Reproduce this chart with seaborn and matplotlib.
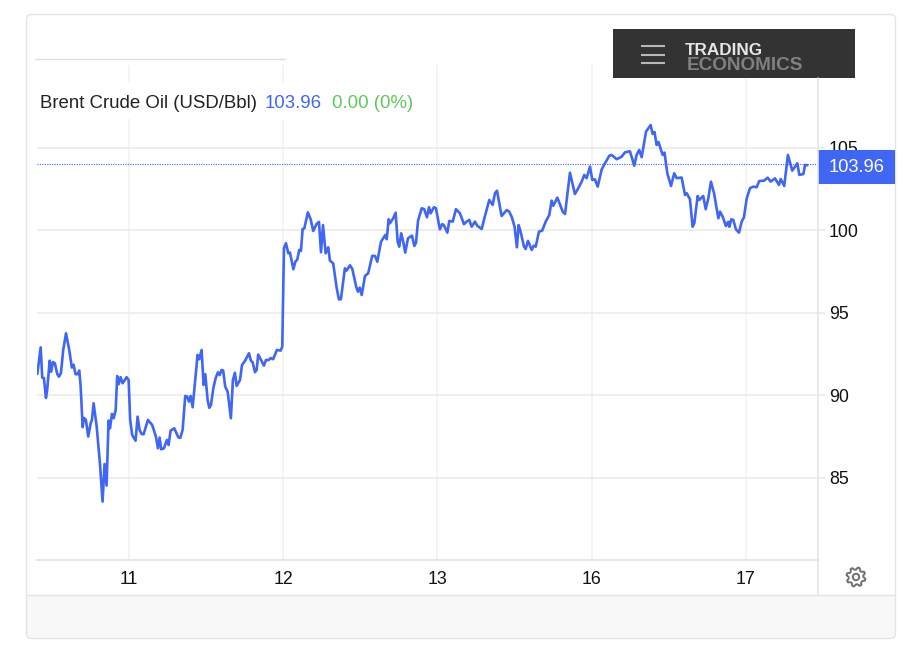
import numpy as np
import pandas as pd
import matplotlib
matplotlib.use('Agg')
import matplotlib.pyplot as plt
from matplotlib.patches import FancyBboxPatch, Rectangle, Polygon, Circle
import seaborn as sns

BLUE = '#3f66f5'
GREEN = '#5fc85f'

# session position, 0 = the "11" tick, one unit per trading day
t = [-0.594,-0.572,-0.562,-0.551,-0.538,-0.530,-0.514,-0.504,-0.493,-0.480,-0.465,-0.454,-0.441,-0.426,-0.408,-0.387,
     -0.370,-0.359,-0.346,-0.333,-0.322,-0.313,-0.300,-0.292,-0.279,-0.264,-0.248,-0.240,-0.229,-0.209,-0.188,-0.171,
     -0.158,-0.145,-0.132,-0.123,-0.110,-0.099,-0.086,-0.076,-0.067,-0.054,-0.041,-0.015,-0.002,0.008,0.021,0.043,
     0.056,0.069,0.082,0.095,0.123,0.151,0.175,0.188,0.199,0.209,0.227,0.246,0.257,0.270,0.294,0.320,0.333,0.348,
     0.365,0.378,0.389,0.400,0.413,0.445,0.456,0.471,0.484,0.495,0.510,0.521,0.532,0.547,0.562,0.577,0.588,0.601,
     0.611,0.624,0.640,0.661,0.674,0.687,0.698,0.720,0.733,0.752,0.778,0.791,0.802,0.817,0.828,0.838,0.854,0.875,
     0.888,0.906,0.919,0.935,0.959,0.983,0.994,1.005,1.018,1.033,1.044,1.066,1.079,1.091,1.104,1.115,1.126,1.137,
     1.160,1.178,1.195,1.217,1.232,1.245,1.258,1.275,1.292,1.303,1.324,1.347,1.361,1.374,1.400,1.411,1.433,1.448,
     1.474,1.485,1.496,1.509,1.530,1.551,1.577,1.595,1.610,1.634,1.662,1.671,1.684,1.692,1.713,1.729,1.742,1.752,
     1.765,1.778,1.791,1.809,1.835,1.850,1.861,1.874,1.898,1.914,1.932,1.945,1.956,1.977,1.990,2.016,2.031,2.042,
     2.064,2.077,2.099,2.120,2.146,2.172,2.189,2.206,2.222,2.243,2.258,2.287,2.303,2.336,2.358,2.373,2.386,2.416,
     2.449,2.465,2.481,2.500,2.515,2.526,2.539,2.561,2.572,2.587,2.611,2.624,2.637,2.658,2.679,2.702,2.725,2.740,
     2.751,2.777,2.794,2.812,2.827,2.859,2.891,2.913,2.935,2.952,2.967,2.989,3.004,3.021,3.039,3.065,3.086,3.114,
     3.129,3.162,3.194,3.216,3.248,3.276,3.291,3.308,3.324,3.352,3.382,3.395,3.407,3.421,3.433,3.460,3.472,3.490,
     3.514,3.535,3.551,3.583,3.605,3.616,3.637,3.654,3.665,3.687,3.697,3.723,3.739,3.756,3.773,3.793,3.821,3.832,
     3.849,3.870,3.885,3.892,3.905,3.918,3.935,3.955,3.972,3.987,4.005,4.026,4.047,4.069,4.086,4.117,4.141,4.160,
     4.188,4.214,4.225,4.248,4.272,4.300,4.333,4.346,4.372,4.383,4.398]

price = [91.31,92.92,91.08,91.06,89.85,90.33,92.11,91.44,92.03,91.95,91.31,91.14,91.35,92.76,93.77,92.76,
         91.69,91.87,91.29,91.29,91.51,90.54,88.08,88.64,88.52,87.51,88.32,88.52,89.53,88.11,85.89,83.57,
         85.85,84.54,88.48,88.01,88.88,88.62,89.12,91.18,90.68,91.11,90.74,91.11,90.94,88.52,87.61,87.26,
         88.72,87.91,87.67,87.65,88.52,88.21,87.50,86.80,87.45,86.74,86.80,87.31,87.00,87.87,88.01,87.47,87.43,87.91,
         89.97,89.93,89.63,89.97,89.29,92.46,92.20,92.76,90.64,91.29,89.73,89.25,89.43,90.44,91.05,91.41,91.24,91.55,
         91.51,90.54,90.23,88.62,90.94,91.38,90.58,90.94,91.85,92.09,92.56,92.11,92.01,91.41,91.55,92.48,92.20,91.81,
         92.15,92.15,92.27,92.20,92.76,92.72,92.96,98.94,99.23,98.62,98.66,97.65,98.11,98.23,98.82,98.76,100.09,100.13,
         101.10,100.68,99.97,100.40,100.52,98.68,100.33,98.62,98.98,98.17,98.01,96.50,95.83,95.83,97.71,97.57,97.89,97.67,
         96.56,96.29,96.54,96.09,97.24,97.41,98.46,98.46,98.11,99.32,99.73,99.47,100.68,100.44,100.74,101.08,99.32,99.02,
         99.83,99.32,98.66,99.53,99.69,99.06,99.26,100.59,101.35,101.29,100.80,101.41,101.04,101.41,101.35,100.07,100.39,100.32,
         99.87,100.58,100.54,101.29,101.04,100.38,100.54,100.64,100.23,100.54,100.29,100.09,100.70,101.85,101.55,102.26,102.41,100.88,
         101.24,101.14,100.84,100.23,98.98,100.33,99.93,99.02,98.88,99.37,98.82,99.08,99.02,99.93,99.99,100.54,100.94,101.81,
         101.50,101.99,101.59,101.14,101.00,103.50,102.21,102.56,102.96,103.37,103.17,103.87,103.06,103.10,102.66,103.71,104.07,104.53,
         104.58,104.32,104.47,104.74,104.80,103.93,104.58,104.88,104.44,105.99,106.39,105.85,105.97,105.18,105.36,104.58,104.72,103.47,
         102.70,103.47,103.17,103.21,102.15,102.26,101.89,100.23,100.44,102.09,101.85,102.09,101.29,101.95,102.96,102.26,100.74,101.14,
         100.84,100.27,100.53,100.23,100.68,100.64,100.07,99.87,100.53,100.80,101.95,102.56,102.66,102.62,103.00,103.02,103.20,102.96,
         103.16,102.76,103.12,102.70,104.58,103.63,104.07,103.37,103.42,103.97,103.96]

x_ticks = [0, 1, 2, 3, 4]
x_labels = ['11', '12', '13', '16', '17']
y_ticks = [85, 90, 95, 100, 105]
last_price = 103.96

sns.set_theme(style='white')
plt.rcParams['font.family'] = ['Liberation Sans', 'DejaVu Sans']

df = pd.DataFrame({'t': t, 'price': price})

W, H = 920, 657
fig = plt.figure(figsize=(W / 100, H / 100), dpi=100)
fig.patch.set_facecolor('white')

ax = fig.add_axes([37 / W, (H - 560) / H, 781 / W, 495 / H])
ax.patch.set_alpha(0)
sns.lineplot(data=df, x='t', y='price', ax=ax, color=BLUE, linewidth=1.9, sort=False, errorbar=None, zorder=4)
ax.axhline(last_price + 0.05, color=BLUE, lw=0.8, ls=(0, (1, 1.2)), zorder=3)
ax.set_xlim(-0.596, 4.467)
ax.set_ylim(80.03, 110.03)
ax.set_xticks(x_ticks)
ax.set_xticklabels(x_labels)
ax.set_yticks(y_ticks)
ax.set_xlabel('')
ax.set_ylabel('')
ax.yaxis.tick_right()
ax.tick_params(axis='y', length=5, width=1.1, color='#e8e8e8', labelsize=12.8, labelcolor='#111111', pad=3)
ax.tick_params(axis='x', length=0, labelsize=12.8, labelcolor='#111111', pad=8)
ax.grid(axis='y', color='#ebebeb', lw=1.2)
ax.grid(axis='x', color='#f4f4f4', lw=1.4)
for s in ['top', 'left', 'right']:
    ax.spines[s].set_visible(False)
ax.spines['bottom'].set_color('#e6e6e6')
ax.spines['bottom'].set_linewidth(1.4)

# page furniture in pixel coords, on top of the chart
ov = fig.add_axes([0, 0, 1, 1], zorder=5)
ov.set_xlim(0, W)
ov.set_ylim(H, 0)
ov.axis('off')
ov.patch.set_alpha(0)

ov.add_patch(Rectangle((27, 595), 868, 43, fc='#f8f8f8', ec='none'))
ov.add_patch(FancyBboxPatch((30, 18), 862, 617, boxstyle='round,pad=3.5,rounding_size=5',
                            fc='none', ec='#e4e4e4', lw=1))
ov.plot([27, 895], [595, 595], color='#e4e4e4', lw=1)
ov.plot([35, 285], [58.5, 58.5], color='#dddddd', lw=1)
ov.plot([818, 818], [78, 595], color='#e4e4e4', lw=1.2)

# logo
ov.add_patch(Rectangle((613, 29), 242, 49, fc='#333333', ec='none'))
for yy in [46, 54.5, 63]:
    ov.plot([641, 665], [yy, yy], color='#b8b8b8', lw=1.5, solid_capstyle='butt')
ov.text(685, 55, 'TRADING', color='#e6e6e6', fontsize=12.3, fontweight='bold', va='baseline')
ov.text(687, 70.5, 'ECONOMICS', color='#808080', fontsize=13.7, fontweight='bold', va='baseline')

# header legend sits on a white box that hides the grid
ov.add_patch(Rectangle((37, 83), 383, 36, fc='white', ec='none'))
ov.text(40, 108, 'Brent Crude Oil (USD/Bbl)', color='#222222', fontsize=13.4, va='baseline')
ov.text(265, 108, '103.96', color=BLUE, fontsize=13.4, va='baseline')
ov.text(332, 108, '0.00 (0%)', color=GREEN, fontsize=13.4, va='baseline')

# last price badge
ov.add_patch(Rectangle((818, 150), 77, 34, fc=BLUE, ec='none'))
ov.text(857, 167.5, '103.96', color='white', fontsize=13.2, ha='center', va='center')

# settings gear
ang = np.linspace(0, 2 * np.pi, 8 * 4, endpoint=False) + np.pi / 8 - np.pi / 16
rad = np.tile([9.6, 9.6, 7.4, 7.4], 8)
ov.add_patch(Polygon(np.c_[856 + rad * np.cos(ang), 577 + rad * np.sin(ang)], closed=True,
                     fc='none', ec='#6f6f6f', lw=1.4, joinstyle='round'))
ov.add_patch(Circle((856, 577), 3.2, fc='none', ec='#6f6f6f', lw=1.4))

fig.savefig('out.png', dpi=100)
